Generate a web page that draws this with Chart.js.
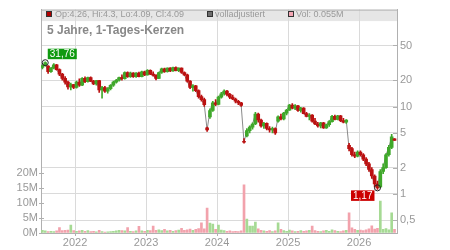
<!DOCTYPE html>
<html>
<head>
<meta charset="utf-8">
<script src="https://cdn.jsdelivr.net/npm/chart.js@4.4.1/dist/chart.umd.min.js"></script>
<style>
  body { margin: 0; background: #fff; }
  #wrap { position: relative; width: 450px; height: 250px; font-family: "Liberation Sans", Arial, sans-serif; }
  #chart { position: absolute; left: 0; top: 0; }
  .sq { position: absolute; top: 11px; width: 4px; height: 4px; border: 1px solid #333; }
  .lt { position: absolute; top: 8px; font-size: 9px; line-height: 12px; color: #999; white-space: nowrap; }
  #title { position: absolute; left: 47px; top: 23px; font-size: 12px; line-height: 14px; font-weight: bold; color: #888; white-space: nowrap; }
</style>
</head>
<body>
<div id="wrap">
  <canvas id="chart" width="450" height="250"></canvas>
  <div class="sq" style="left:46px; background:#b00000"></div>
  <div class="lt" style="left:55px">Op:4.26, Hi:4.3, Lo:4.09, Cl:4.09</div>
  <div class="sq" style="left:207px; background:#6e6e6e"></div>
  <div class="lt" style="left:215px">volladjustiert</div>
  <div class="sq" style="left:288px; background:#f4a6b4"></div>
  <div class="lt" style="left:296px">Vol: 0.055M</div>
  <div id="title">5 Jahre, 1-Tages-Kerzen</div>
</div>
<script>
  // Candles are sampled roughly every two weeks (in decimal years).
  const candleStart = 2021.54;
  const candleStep = 0.04;

  const opens = [
    28.0, 29.5, 29.0, 25.0, 27.5, 30.0, 26.5, 23.5, 21.0, 19.0,
    16.8, 17.8, 16.5, 19.0, 17.5, 21.0, 19.2, 21.5, 19.5, 18.2,
    19.8, 15.5, 16.5, 15.0, 16.0, 17.5, 19.0, 20.0, 21.5, 20.8,
    24.5, 22.0, 24.2, 22.0, 24.2, 22.0, 25.0, 23.0, 26.0, 23.5,
    22.8, 21.0, 24.5, 27.0, 25.0, 27.5, 25.5, 28.0, 25.8, 27.5,
    24.5, 23.0, 19.5, 16.5, 17.2, 15.2, 13.0, 12.0, 5.7, 7.6,
    9.0, 11.0, 10.6, 12.8, 14.0, 15.0, 13.8, 12.8, 12.2, 11.5,
    11.0, 4.0, 4.6, 5.3, 5.8, 6.3, 8.2, 7.0, 6.0, 6.4,
    5.6, 5.4, 5.6, 6.8, 7.6, 7.2, 8.4, 9.1, 10.4, 9.6,
    10.2, 9.0, 9.6, 8.3, 7.7, 8.0, 6.8, 6.3, 6.0, 6.5,
    5.7, 6.2, 6.7, 7.7, 7.1, 7.8, 6.9, 6.6, 3.6, 3.3,
    2.8, 2.7, 3.0, 2.8, 2.5, 2.2, 1.9, 1.6, 1.3, 1.2,
    1.8, 2.0, 2.8, 3.4, 4.26
  ];
  const highs = [
    30.0, 32.4, 29.5, 28.0, 31.0, 30.5, 27.0, 24.0, 22.0, 19.5,
    18.5, 18.0, 19.5, 20.8, 21.5, 21.9, 21.8, 21.9, 20.0, 20.0,
    20.0, 17.0, 17.0, 16.5, 17.8, 19.5, 20.5, 21.8, 23.0, 25.0,
    25.0, 24.8, 24.5, 24.5, 24.8, 25.5, 25.5, 26.5, 26.3, 25.0,
    23.2, 24.8, 27.5, 27.5, 27.8, 28.0, 28.3, 28.4, 27.8, 27.8,
    25.0, 23.5, 19.8, 17.8, 17.5, 15.5, 13.5, 12.5, 5.8, 9.4,
    11.5, 12.0, 13.2, 14.5, 15.5, 15.3, 14.2, 13.5, 12.5, 11.8,
    11.2, 4.3, 5.6, 6.0, 6.5, 8.6, 8.4, 7.2, 6.6, 6.5,
    5.9, 5.8, 5.7, 7.8, 8.2, 8.6, 9.3, 10.6, 10.8, 10.5,
    10.3, 9.8, 9.7, 8.6, 8.3, 8.1, 7.3, 6.6, 6.6, 6.6,
    6.3, 6.9, 7.9, 8.0, 7.9, 7.9, 7.3, 7.1, 3.8, 3.4,
    3.0, 3.1, 3.1, 2.9, 2.6, 2.3, 2.0, 1.65, 1.4, 1.9,
    2.2, 2.9, 3.6, 4.8, 4.3
  ];
  const lows = [
    27.0, 29.0, 24.0, 24.5, 27.0, 26.0, 22.5, 20.0, 18.0, 15.8,
    15.5, 16.0, 16.2, 17.0, 17.3, 18.8, 19.0, 19.2, 17.8, 17.5,
    14.5, 12.5, 14.5, 14.2, 15.5, 17.0, 18.5, 19.5, 20.0, 20.5,
    21.5, 21.5, 21.5, 21.5, 21.8, 21.8, 22.5, 22.8, 23.2, 22.3,
    20.2, 20.8, 24.0, 24.5, 24.8, 25.0, 25.2, 25.5, 25.0, 24.0,
    22.5, 19.0, 16.0, 15.0, 14.8, 12.5, 11.5, 10.0, 5.2, 7.3,
    8.8, 10.2, 10.4, 12.5, 13.5, 13.2, 12.3, 12.0, 11.0, 10.5,
    10.0, 3.8, 4.5, 5.0, 5.5, 6.2, 6.6, 5.8, 5.6, 5.4,
    5.1, 5.0, 4.8, 6.6, 7.0, 7.0, 8.0, 9.0, 9.4, 9.2,
    8.8, 8.6, 8.2, 7.6, 7.0, 6.6, 6.2, 5.8, 5.7, 5.6,
    5.6, 5.9, 6.6, 7.0, 7.0, 6.7, 6.5, 6.4, 3.1, 2.7,
    2.6, 2.65, 2.7, 2.4, 2.1, 1.8, 1.5, 1.2, 1.12, 1.18,
    1.7, 1.95, 2.7, 3.3, 4.09
  ];
  const closes = [
    29.5, 31.76, 25.0, 27.5, 30.0, 26.5, 23.5, 21.0, 19.0, 16.8,
    17.8, 16.5, 19.0, 17.5, 21.0, 19.2, 21.5, 19.5, 18.2, 19.8,
    15.5, 16.5, 15.0, 16.0, 17.5, 19.0, 20.0, 21.5, 20.8, 24.5,
    22.0, 24.2, 22.0, 24.2, 22.0, 25.0, 23.0, 26.0, 23.5, 22.8,
    21.0, 24.5, 27.0, 25.0, 27.5, 25.5, 28.0, 25.8, 27.5, 24.5,
    23.0, 19.5, 16.5, 17.2, 15.2, 13.0, 12.0, 10.5, 5.4, 9.0,
    11.0, 10.6, 12.8, 14.0, 15.0, 13.8, 12.8, 12.2, 11.5, 11.0,
    10.3, 3.9, 5.3, 5.8, 6.3, 8.2, 7.0, 6.0, 6.4, 5.6,
    5.4, 5.6, 5.0, 7.6, 7.2, 8.4, 9.1, 10.4, 9.6, 10.2,
    9.0, 9.6, 8.3, 7.7, 8.0, 6.8, 6.3, 6.0, 6.5, 5.7,
    6.2, 6.7, 7.7, 7.1, 7.8, 6.9, 6.6, 7.0, 3.3, 2.8,
    2.7, 3.0, 2.8, 2.5, 2.2, 1.9, 1.6, 1.3, 1.17, 1.8,
    2.0, 2.8, 3.4, 4.5, 4.09
  ];
  // Volume in millions of shares.
  const volumes = [
    0.9, 0.7, 0.5, 0.6, 0.5, 0.7, 1.8, 0.8, 0.9, 1.0,
    2.7, 0.8, 0.6, 0.7, 0.9, 0.6, 0.8, 0.5, 0.6, 0.4,
    0.9, 0.5, 0.3, 0.4, 0.5, 0.6, 0.7, 0.9, 0.8, 0.7,
    1.8, 0.6, 0.5, 0.7, 2.2, 0.7, 0.6, 0.9, 0.8, 2.3,
    0.9, 1.1, 0.8, 1.2, 0.7, 0.9, 0.6, 0.8, 1.0, 1.6,
    0.9, 1.1, 1.3, 0.9, 1.2, 1.5, 3.4, 1.4, 8.4, 3.3,
    3.0, 1.2, 2.7, 1.0, 0.8, 0.6, 0.7, 0.5, 0.6, 0.5,
    0.7, 16.2, 4.7, 2.3, 2.3, 3.7, 1.4, 0.9, 0.7, 0.6,
    0.8, 0.5, 0.7, 3.4, 1.2, 0.8, 0.6, 1.0, 0.7, 0.5,
    0.6, 0.8, 0.6, 0.7, 0.9, 2.3, 0.8, 0.6, 0.5, 0.7,
    0.9, 0.6, 1.1, 0.8, 0.6, 0.5, 0.7, 0.9, 6.8, 1.7,
    1.2, 0.9, 1.0, 0.8, 1.1, 1.4, 2.4, 1.3, 1.6, 10.7,
    1.2, 1.5, 1.1, 6.8, 1.2
  ];

  const yearTicks = [2022, 2023, 2024, 2025, 2026];
  const priceTicks = [0.5, 1, 2, 5, 10, 20, 50];
  const volumeTicks = [0, 5, 10, 15, 20];

  const RED = '#bb1111';
  const GREEN = '#3fa82a';
  const candleX = closes.map( ( c, i ) => candleStart + i * candleStep );
  const isUp = closes.map( ( c, i ) => c >= opens[ i ] );
  const dec = ( v ) => String( v ).replace( '.', ',' );

  // Header band, top border and the short inner tick marks.
  const chartFrame = {
    id: 'chartFrame',
    beforeDraw( chart ) {
      const { ctx, chartArea: a } = chart;
      ctx.save();
      ctx.fillStyle = '#e6e6e6';
      ctx.fillRect( a.left, a.top, a.right - a.left, 11.5 );
      ctx.restore();
    },
    afterDraw( chart ) {
      const { ctx, chartArea: a, scales } = chart;
      ctx.save();
      ctx.strokeStyle = '#b0b0b0';
      ctx.lineWidth = 1;
      ctx.beginPath();
      ctx.moveTo( a.left, a.top + 0.5 );
      ctx.lineTo( a.right, a.top + 0.5 );
      scales.y.ticks.forEach( ( t ) => {
        const py = Math.round( scales.y.getPixelForValue( t.value ) ) + 0.5;
        ctx.moveTo( a.right - 4, py );
        ctx.lineTo( a.right, py );
      } );
      scales.yVol.ticks.forEach( ( t ) => {
        const py = Math.round( scales.yVol.getPixelForValue( t.value ) ) + 0.5;
        ctx.moveTo( a.left - 2, py );
        ctx.lineTo( a.left + 3, py );
      } );
      ctx.stroke();
      ctx.restore();
    }
  };

  // Circles and value boxes at the highest and lowest close.
  const extremaLabels = {
    id: 'extremaLabels',
    afterDatasetsDraw( chart ) {
      const { ctx, scales: { x, y } } = chart;
      const hi = closes.indexOf( Math.max( ...closes ) );
      const lo = closes.indexOf( Math.min( ...closes ) );
      ctx.save();
      ctx.font = '10px "Liberation Sans", Arial, sans-serif';
      ctx.textBaseline = 'middle';
      ctx.textAlign = 'center';
      [ [ hi, '#109a10', true ], [ lo, '#cc0000', false ] ].forEach( ( [ i, color, above ] ) => {
        const px = x.getPixelForValue( candleX[ i ] );
        const py = y.getPixelForValue( closes[ i ] );
        const text = dec( closes[ i ] );
        const w = ctx.measureText( text ).width + 4;
        const h = 10.5;
        const bx = above ? px + 2.5 : px - 3 - w;
        const by = above ? py - 14 : py + 2.5;
        ctx.fillStyle = color;
        ctx.fillRect( bx, by, w, h );
        ctx.fillStyle = '#fff';
        ctx.fillText( text, bx + w / 2, by + h / 2 + 0.5 );
        ctx.beginPath();
        ctx.arc( px, py, 3, 0, Math.PI * 2 );
        ctx.strokeStyle = '#222';
        ctx.lineWidth = 1;
        ctx.stroke();
      } );
      ctx.restore();
    }
  };

  Chart.defaults.font.family = '"Liberation Sans", Arial, sans-serif';
  Chart.defaults.font.size = 11;
  Chart.defaults.color = '#999';

  new Chart( document.getElementById( 'chart' ), {
    type: 'bar',
    data: {
      datasets: [
        {
          label: 'Körper',
          data: candleX.map( ( x, i ) => ( { x: x, y: [ opens[ i ], closes[ i ] ] } ) ),
          backgroundColor: isUp.map( ( up ) => ( up ? GREEN : RED ) ),
          barThickness: 3,
          grouped: false,
          yAxisID: 'y',
          order: 1
        },
        {
          label: 'Docht',
          data: candleX.map( ( x, i ) => ( { x: x, y: [ lows[ i ], highs[ i ] ] } ) ),
          backgroundColor: isUp.map( ( up ) => ( up ? GREEN : RED ) ),
          barThickness: 1,
          grouped: false,
          yAxisID: 'y',
          order: 2
        },
        {
          label: 'Vol',
          data: candleX.map( ( x, i ) => ( { x: x, y: volumes[ i ] } ) ),
          backgroundColor: isUp.map( ( up ) => ( up ? '#a6da94' : '#f2a2ac' ) ),
          barThickness: 2,
          grouped: false,
          yAxisID: 'yVol',
          order: 5
        },
        {
          type: 'line',
          label: 'volladjustiert',
          data: candleX.map( ( x, i ) => ( { x: x, y: closes[ i ] } ) ),
          borderColor: '#8a8a8a',
          borderWidth: 1,
          pointRadius: 0,
          yAxisID: 'y',
          order: 10
        }
      ]
    },
    options: {
      responsive: false,
      animation: false,
      layout: { padding: { top: 7, left: 0, right: 0, bottom: 0 } },
      plugins: {
        legend: { display: false },
        tooltip: { enabled: false }
      },
      scales: {
        x: {
          type: 'linear',
          bounds: 'data',
          min: 2021.52,
          max: 2026.535,
          offset: false,
          afterBuildTicks: ( s ) => { s.ticks = yearTicks.map( ( v ) => ( { value: v } ) ); },
          afterFit: ( s ) => { s.height = 17; },
          ticks: { callback: ( v ) => String( v ), padding: 0, maxRotation: 0 },
          grid: { color: '#dadada', offset: false, tickLength: 3, tickColor: '#b0b0b0' },
          border: { color: '#b0b0b0' }
        },
        y: {
          type: 'logarithmic',
          position: 'right',
          bounds: 'data',
          min: 0.356,
          max: 128.8,
          afterBuildTicks: ( s ) => { s.ticks = priceTicks.map( ( v ) => ( { value: v } ) ); },
          afterFit: ( s ) => { s.width = 53; },
          ticks: { callback: ( v ) => dec( v ), padding: 3 },
          grid: { color: '#dadada', drawTicks: false },
          border: { color: '#b0b0b0' }
        },
        yVol: {
          type: 'linear',
          position: 'left',
          bounds: 'data',
          min: 0,
          max: 75,
          afterBuildTicks: ( s ) => { s.ticks = volumeTicks.map( ( v ) => ( { value: v } ) ); },
          afterFit: ( s ) => { s.width = 41; },
          ticks: { callback: ( v ) => v + 'M', padding: 3 },
          grid: { drawOnChartArea: false, drawTicks: false },
          border: { color: '#b0b0b0' }
        }
      }
    },
    plugins: [ chartFrame, extremaLabels ]
  } );
</script>
</body>
</html>
